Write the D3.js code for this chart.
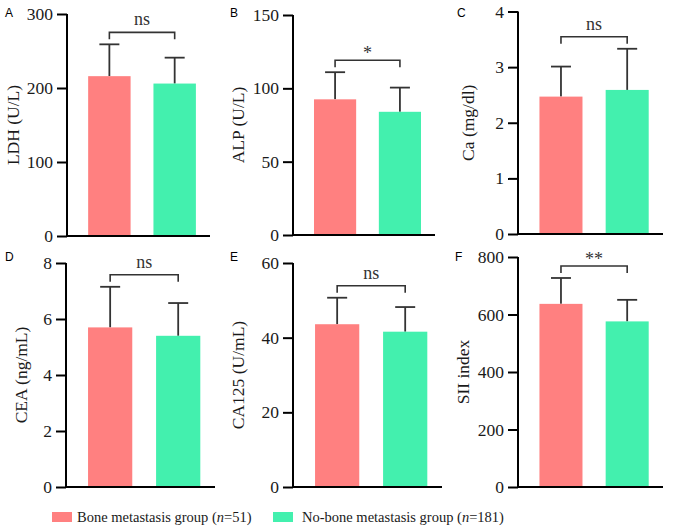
<!DOCTYPE html>
<html><head><meta charset="utf-8">
<script src="https://cdn.jsdelivr.net/npm/d3@7"></script>
<style>body{margin:0;background:#fff}svg{display:block}</style>
</head><body>
<svg id="c" width="674" height="532"></svg>
<script>
// ---- data ----
const groups = ["Bone metastasis group", "No-bone metastasis group"];
const groupN = [51, 181];
const panelLetters = ["A", "B", "C", "D", "E", "F"];
const yTitles = ["LDH (U/L)", "ALP (U/L)", "Ca (mg/dl)", "CEA (ng/mL)", "CA125 (U/mL)", "SII index"];
const yMax = [300, 150, 4, 8, 60, 800];
const yTickStep = [100, 50, 1, 2, 20, 200];
const boneMean = [216, 92.5, 2.47, 5.7, 43.6, 637];
const boneSD = [43, 18.5, 0.54, 1.45, 7.1, 90];
const noBoneMean = [206, 84, 2.59, 5.4, 41.6, 576];
const noBoneSD = [35, 16.5, 0.74, 1.17, 6.6, 75];
const significance = ["ns", "*", "ns", "ns", "ns", "**"];

// ---- layout (positions only) ----
const layout = [
  {ax: 67,  right: 210, top: 14,  bottom: 236, titleOff: 54, lx: 5,   ly: 17},
  {ax: 293, right: 435, top: 15,  bottom: 235, titleOff: 55, lx: 230, ly: 17},
  {ax: 518, right: 663, top: 11.5,bottom: 234, titleOff: 50, lx: 457, ly: 17},
  {ax: 66,  right: 215, top: 263, bottom: 487, titleOff: 45, lx: 5,   ly: 261},
  {ax: 293, right: 442, top: 263, bottom: 487, titleOff: 55, lx: 230, ly: 261},
  {ax: 518, right: 663, top: 257, bottom: 487, titleOff: 55, lx: 455, ly: 261}
];
const colors = ["#FF8080", "#43F0AE"];
const serif = "'Liberation Serif','Times New Roman',serif";
const sans = "'Liberation Sans',Arial,sans-serif";

const svg = d3.select("#c");

panelLetters.forEach((letter, i) => {
  const L = layout[i];
  const g = svg.append("g");
  const y = d3.scaleLinear().domain([0, yMax[i]]).range([L.bottom, L.top]);
  const x = d3.scaleBand().domain(groups).range([L.ax, L.right])
    .paddingInner(0.35).paddingOuter(0.27).align(0.6);
  const ticks = d3.range(0, yMax[i] + yTickStep[i] / 2, yTickStep[i]);

  const yAxis = g.append("g").attr("transform", `translate(${L.ax},0)`)
    .call(d3.axisLeft(y).tickValues(ticks).tickSize(10).tickPadding(4).tickFormat(d3.format("d")));
  yAxis.select(".domain").attr("stroke", "#000").attr("stroke-width", 2).attr("d", `M0,${L.top}V${L.bottom}`);
  yAxis.selectAll(".tick line").attr("stroke", "#000").attr("stroke-width", 2);
  yAxis.selectAll(".tick text").attr("font-family", serif).attr("font-size", 17.5).attr("fill", "#1a1a1a");

  // x axis line
  g.append("line").attr("x1", L.ax - 1).attr("x2", L.right).attr("y1", L.bottom).attr("y2", L.bottom)
    .attr("stroke", "#000").attr("stroke-width", 2);

  const means = [boneMean[i], noBoneMean[i]];
  const sds = [boneSD[i], noBoneSD[i]];

  groups.forEach((grp, j) => {
    const cx = x(grp) + x.bandwidth() / 2;
    g.append("line").attr("x1", cx).attr("x2", cx)
      .attr("y1", y(means[j])).attr("y2", y(means[j] + sds[j]))
      .attr("stroke", "#333").attr("stroke-width", 1.8);
    g.append("line").attr("x1", cx - 10).attr("x2", cx + 10)
      .attr("y1", y(means[j] + sds[j])).attr("y2", y(means[j] + sds[j]))
      .attr("stroke", "#333").attr("stroke-width", 1.8);
  });

  g.selectAll("rect.bar").data(groups).join("rect").attr("class", "bar")
    .attr("x", d => x(d)).attr("width", x.bandwidth())
    .attr("y", (d, j) => y(means[j])).attr("height", (d, j) => L.bottom - 1 - y(means[j]))
    .attr("fill", (d, j) => colors[j]);

  // significance bracket
  const topErr = Math.min(y(means[0] + sds[0]), y(means[1] + sds[1]));
  const by = topErr - 12;
  const c1 = x(groups[0]) + x.bandwidth() / 2, c2 = x(groups[1]) + x.bandwidth() / 2;
  g.append("path").attr("d", `M${c1},${by + 7}V${by}H${c2}V${by + 7}`)
    .attr("fill", "none").attr("stroke", "#333").attr("stroke-width", 1.6);
  g.append("text").attr("x", (c1 + c2) / 2).attr("y", significance[i] === "ns" ? by - 7 : by - 1)
    .attr("text-anchor", "middle").attr("font-family", serif).attr("font-size", 18).attr("fill", "#333")
    .text(significance[i]);

  // y title
  g.append("text").attr("transform", `translate(${L.ax - L.titleOff},${(L.top + L.bottom) / 2}) rotate(-90)`)
    .attr("text-anchor", "middle").attr("dy", "0.35em")
    .attr("font-family", serif).attr("font-size", 17.5).attr("fill", "#1a1a1a").text(yTitles[i]);

  // panel letter
  g.append("text").attr("x", L.lx).attr("y", L.ly).attr("font-family", sans).attr("font-size", 12)
    .attr("fill", "#000").text(letter);
});

// legend
const legendX = [52, 273];
const legendTextX = [77, 302];
groups.forEach((grp, j) => {
  svg.append("rect").attr("x", legendX[j]).attr("y", 512).attr("width", 20).attr("height", 10).attr("fill", colors[j]);
  const t = svg.append("text").attr("x", legendTextX[j]).attr("y", 522)
    .attr("font-family", serif).attr("font-size", 14.5).attr("fill", "#1a1a1a");
  t.append("tspan").text(grp + " (");
  t.append("tspan").attr("font-style", "italic").text("n");
  t.append("tspan").text("=" + groupN[j] + ")");
});
</script>
</body></html>
